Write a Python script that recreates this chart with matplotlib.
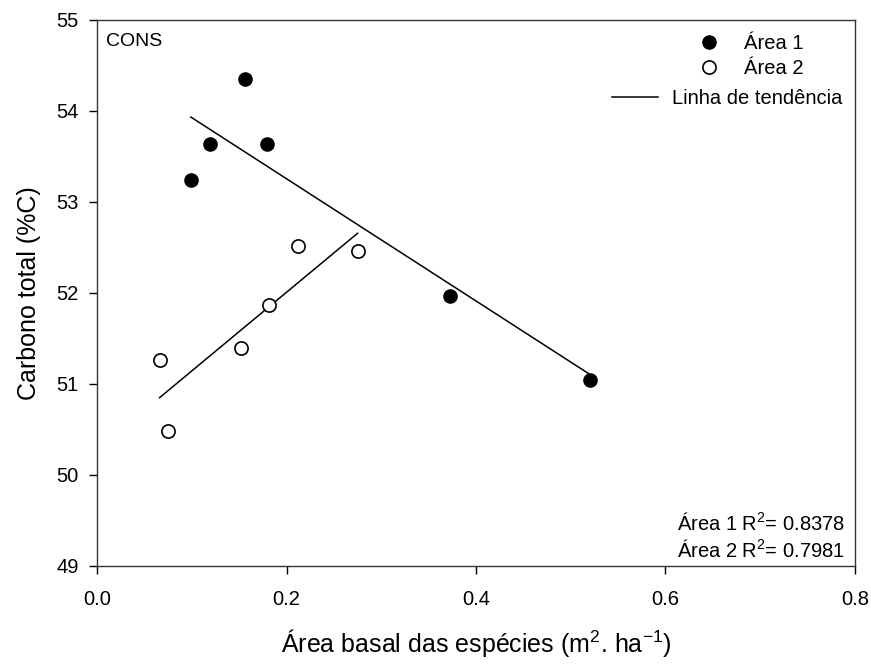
import numpy as np
import matplotlib.pyplot as plt
from matplotlib.lines import Line2D

plt.rcParams['font.family'] = ['Liberation Sans', 'DejaVu Sans']
plt.rcParams['mathtext.fontset'] = 'custom'
plt.rcParams['mathtext.rm'] = 'Liberation Sans'
plt.rcParams['mathtext.it'] = 'Liberation Sans'

# Área 1 (filled)
x_area1 = [0.099, 0.119, 0.156, 0.179, 0.373, 0.520]
y_area1 = [53.24, 53.64, 54.35, 53.64, 51.97, 51.04]
# Área 2 (open)
x_area2 = [0.066, 0.075, 0.152, 0.182, 0.212, 0.275]
y_area2 = [51.26, 50.48, 51.40, 51.87, 52.52, 52.46]

r2_area1 = 0.8378
r2_area2 = 0.7981

FS = 14.5

fig = plt.figure(figsize=(8.71, 6.64), dpi=100)
ax = fig.add_axes([0.1114, 0.1476, 0.8702, 0.8223])

h1, = ax.plot(x_area1, y_area1, 'o', color='black', markersize=9.5, zorder=3)
h2, = ax.plot(x_area2, y_area2, 'o', markerfacecolor='white', markeredgecolor='black',
              markeredgewidth=1.2, markersize=9.5, zorder=3)

# trend lines, fit per group and drawn over the data range
for xs, ys in [(x_area1, y_area1), (x_area2, y_area2)]:
    xs = np.array(xs)
    ys = np.array(ys)
    m, b = np.polyfit(xs, ys, 1)
    xl = np.array([xs.min(), xs.max()])
    ax.plot(xl, m*xl + b, color='black', linewidth=1.1)
h3 = Line2D([], [], color='black', linewidth=1.1)

ax.set_xlim(0, 0.8)
ax.set_ylim(49, 55)
ax.set_xticks([0.0, 0.2, 0.4, 0.6, 0.8])
ax.set_xticklabels(['0.0', '0.2', '0.4', '0.6', '0.8'])
ax.set_yticks([49, 50, 51, 52, 53, 54, 55])
ax.tick_params(direction='out', length=6, width=1, labelsize=FS, colors='black')
ax.tick_params(axis='x', pad=11)
ax.tick_params(axis='y', pad=7)
for s in ax.spines.values():
    s.set_color('#333333')
    s.set_linewidth(1)

ax.set_xlabel('Área basal das espécies (m$^2$. ha$^{-1}$)', fontsize=18, labelpad=13)
ax.set_ylabel('Carbono total (%C)', fontsize=18, labelpad=11)

ax.text(0.012, 0.96, 'CONS', transform=ax.transAxes, fontsize=14, va='center', ha='left')
ax.text(0.987, 0.079, 'Área 1 R$^2$= %.4f' % r2_area1, transform=ax.transAxes,
        fontsize=FS, ha='right', va='center')
ax.text(0.987, 0.029, 'Área 2 R$^2$= %.4f' % r2_area2, transform=ax.transAxes,
        fontsize=FS, ha='right', va='center')

# two legends: the symbol rows and the trend line row sit at different offsets
leg1 = ax.legend([h1, h2], ['Área 1', 'Área 2'], loc='upper left',
                 bbox_to_anchor=(0.794, 0.974), frameon=False, fontsize=FS,
                 handlelength=1.0, handletextpad=1.23, labelspacing=0.3,
                 borderpad=0, borderaxespad=0)
ax.add_artist(leg1)
ax.legend([h3], ['Linha de tendência'], loc='upper left',
          bbox_to_anchor=(0.679, 0.874), frameon=False, fontsize=FS,
          handlelength=2.31, handletextpad=0.67, borderpad=0, borderaxespad=0)

fig.savefig('out.png', dpi=100)
